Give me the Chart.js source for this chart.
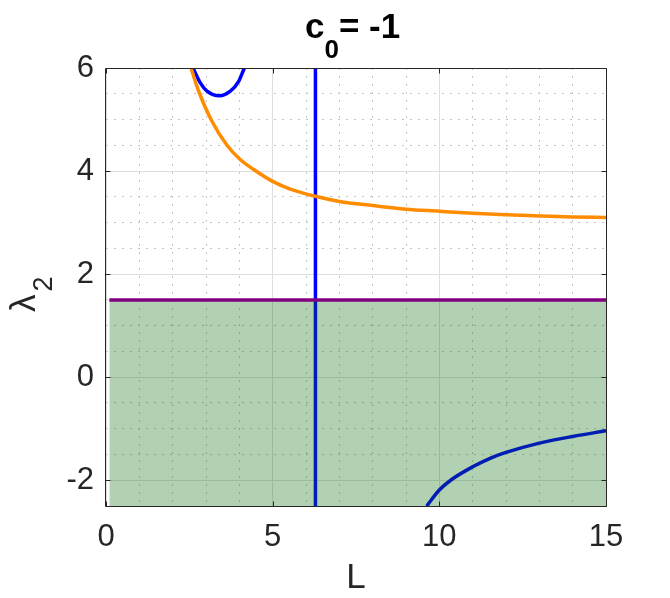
<!DOCTYPE html>
<html>
<head>
<meta charset="utf-8">
<script src="https://cdn.jsdelivr.net/npm/chart.js@4"></script>
<style>
  html, body { margin: 0; padding: 0; background: #fff; }
  #wrap { width: 670px; height: 598px; }
</style>
</head>
<body>
<div id="wrap"><canvas id="chart"></canvas></div>
<script>
const xRange = [0, 15];
const yRange = [-2.5, 6];
const xTicks = [0, 5, 10, 15];
const yTicks = [-2, 0, 2, 4, 6];

// orange branch
const orangeL = [2.55, 2.78, 3.15, 3.63, 4.0, 4.43, 5.0, 5.53, 6.28, 7, 8, 9, 10, 11, 12, 13, 14, 15];
const orangeLam = [6.0, 5.55, 5.0, 4.5, 4.24, 4.03, 3.80, 3.65, 3.51, 3.41, 3.33, 3.26, 3.22, 3.18, 3.15, 3.13, 3.11, 3.10];

// blue branches
const capL = [2.61, 2.83, 3.03, 3.40, 3.73, 3.98, 4.15];
const capLam = [6.0, 5.71, 5.55, 5.46, 5.55, 5.74, 6.0];
const lowL = [9.62, 10, 10.34, 11, 11.54, 12, 13, 14, 15];
const lowLam = [-2.5, -2.19, -2.0, -1.74, -1.57, -1.46, -1.28, -1.15, -1.04];
const vertL = [6.2832, 6.2832];
const vertLam = [-2.5, 6];

// stable band
const bandL = [0.1, 15];
const bandLam = [1.5, 1.5];

const pts = (xs, ys) => xs.map((x, i) => ({ x: x, y: ys[i] }));

Chart.defaults.font.family = "'Liberation Sans', Arial, sans-serif";
Chart.defaults.color = '#262626';

const decor = {
    id: 'decor',
    afterDraw(chart) {
        const { ctx, chartArea: a, scales } = chart;
        const x = scales.x, y = scales.y;
        ctx.save();
        ctx.strokeStyle = '#262626';
        ctx.lineWidth = 1;
        const L = Math.round(a.left) - 0.5, R = Math.round(a.right) + 0.5;
        const T = Math.round(a.top) + 0.5, B = Math.round(a.bottom) + 0.5;
        ctx.beginPath();
        ctx.rect(L, T, R - L, B - T);
        xTicks.forEach(v => {
            const px = Math.round(x.getPixelForValue(v)) + 0.5;
            ctx.moveTo(px, B); ctx.lineTo(px, B - 5);
            ctx.moveTo(px, T); ctx.lineTo(px, T + 5);
        });
        yTicks.forEach(v => {
            const py = Math.round(y.getPixelForValue(v)) + 0.5;
            ctx.moveTo(L, py); ctx.lineTo(L + 5, py);
            ctx.moveTo(R, py); ctx.lineTo(R - 5, py);
        });
        ctx.stroke();

        // title c_0= -1
        ctx.fillStyle = '#000';
        ctx.textBaseline = 'alphabetic';
        ctx.textAlign = 'left';
        let tx = 305;
        ctx.font = "bold 35px 'Liberation Sans', Arial, sans-serif";
        ctx.fillText('c', tx, 37.5);
        tx += ctx.measureText('c').width;
        ctx.font = "bold 26px 'Liberation Sans', Arial, sans-serif";
        ctx.fillText('0', tx, 58);
        tx += ctx.measureText('0').width;
        ctx.font = "bold 35px 'Liberation Sans', Arial, sans-serif";
        ctx.fillText('= -1', tx, 37.5);

        // y label lambda_2
        ctx.fillStyle = '#262626';
        ctx.translate(35, 312);
        ctx.rotate(-Math.PI / 2);
        ctx.font = "35px 'Liberation Sans', Arial, sans-serif";
        ctx.fillText('λ', 0, 0);
        const lw = ctx.measureText('λ').width;
        ctx.font = "27px 'Liberation Sans', Arial, sans-serif";
        ctx.fillText('2', lw + 3, 17);
        ctx.restore();
    }
};

const lineStyle = { pointRadius: 0, borderWidth: 3.5, fill: false, cubicInterpolationMode: 'monotone' };

new Chart(document.getElementById('chart'), {
    type: 'line',
    data: {
        datasets: [
            { ...lineStyle, label: 'band', data: pts(bandL, bandLam), fill: 'start',
              backgroundColor: 'rgba(0,100,0,0.3)', borderColor: 'rgba(0,0,0,0)', borderWidth: 0, order: 2 },
            { ...lineStyle, label: 'edge', data: pts(bandL, bandLam), borderColor: '#800080', order: 1 },
            { ...lineStyle, label: 'orange', data: pts(orangeL, orangeLam), borderColor: '#ff8c00', order: 1 },
            { ...lineStyle, label: 'vert', data: pts(vertL, vertLam), borderColor: '#0000ff',
              cubicInterpolationMode: 'default', order: 3 },
            { ...lineStyle, label: 'cap', data: pts(capL, capLam), borderColor: '#0000ff', order: 3 },
            { ...lineStyle, label: 'low', data: pts(lowL, lowLam), borderColor: '#0000ff', order: 3 }
        ]
    },
    options: {
        responsive: true,
        maintainAspectRatio: false,
        animation: false,
        events: [],
        layout: { padding: { top: 68, right: 64, bottom: 0, left: 0 } },
        plugins: { legend: { display: false }, tooltip: { enabled: false } },
        scales: {
            x: {
                type: 'linear', min: xRange[0], max: xRange[1],
                afterBuildTicks: (s) => { s.ticks = xTicks.map(v => ({ value: v })); },
                afterFit: (s) => { s.height = 92; },
                ticks: { font: { size: 31 }, padding: 13, maxRotation: 0 },
                grid: { color: '#dedede', drawTicks: false },
                border: { display: false },
                title: { display: true, text: 'L', font: { size: 35, lineHeight: 1.1 }, padding: 0 }
            },
            y: {
                type: 'linear', min: yRange[0], max: yRange[1],
                afterBuildTicks: (s) => { s.ticks = yTicks.map(v => ({ value: v })); },
                afterFit: (s) => { s.width = 106; },
                ticks: { font: { size: 31 }, padding: 12 },
                grid: { color: '#dedede', drawTicks: false },
                border: { display: false }
            },
            xMinor: {
                type: 'linear', position: 'bottom', min: xRange[0], max: xRange[1],
                ticks: { display: false, stepSize: 1 },
                grid: { drawTicks: false, color: (c) => (c.tick.value % 5 === 0 ? 'rgba(0,0,0,0)' : '#c4c4c4') },
                border: { display: false, dash: [2, 6] }
            },
            yMinor: {
                type: 'linear', position: 'left', min: yRange[0], max: yRange[1],
                ticks: { display: false, stepSize: 0.5 },
                grid: { drawTicks: false, color: (c) => (Math.abs(c.tick.value % 2) < 1e-9 ? 'rgba(0,0,0,0)' : '#c4c4c4') },
                border: { display: false, dash: [2, 6] }
            }
        }
    },
    plugins: [decor]
});
</script>
</body>
</html>
